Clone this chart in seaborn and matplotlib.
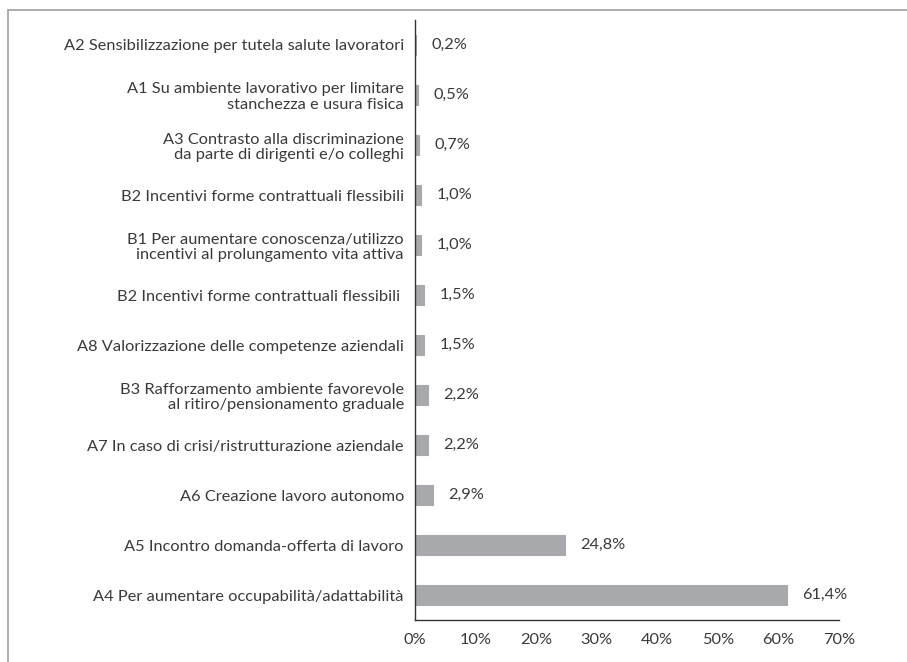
import matplotlib
matplotlib.use("Agg")
import matplotlib.pyplot as plt
import seaborn as sns
import pandas as pd
from matplotlib.lines import Line2D

labels = [
    "A2 Sensibilizzazione per tutela salute lavoratori",
    "A1 Su ambiente lavorativo per limitare\nstanchezza e usura fisica",
    "A3 Contrasto alla discriminazione\nda parte di dirigenti e/o colleghi",
    "B2 Incentivi forme contrattuali flessibili",
    "B1 Per aumentare conoscenza/utilizzo\nincentivi al prolungamento vita attiva",
    "B2 Incentivi forme contrattuali flessibili ",
    "A8 Valorizzazione delle competenze aziendali",
    "B3 Rafforzamento ambiente favorevole\nal ritiro/pensionamento graduale",
    "A7 In caso di crisi/ristrutturazione aziendale",
    "A6 Creazione lavoro autonomo",
    "A5 Incontro domanda-offerta di lavoro",
    "A4 Per aumentare occupabilità/adattabilità",
]
values = [0.2, 0.5, 0.7, 1.0, 1.0, 1.5, 1.5, 2.2, 2.2, 2.9, 24.8, 61.4]
xticks = [0, 10, 20, 30, 40, 50, 60, 70]

df = pd.DataFrame({"label": labels, "value": values})

sns.set_style("white")
plt.rcParams["font.family"] = ["Lato", "DejaVu Sans"]
text_col = "#3a3a3a"
fs = 11.8

fig = plt.figure(figsize=(9.07, 6.62), dpi=100)
ax = fig.add_axes([0.4576, 0.0634, 0.4675, 0.9064])

sns.barplot(data=df, x="value", y="label", orient="h", color="#a8a9ac",
            saturation=1, width=0.4, edgecolor="#a8a9ac", linewidth=0.8, ax=ax)

for i, v in enumerate(values):
    ax.annotate(f"{v:.1f}%".replace(".", ","), xy=(v, i), xytext=(11, 0),
                textcoords="offset points", va="center", ha="left",
                fontsize=fs, color=text_col)

ax.set_xlim(0, 70)
ax.set_ylim(len(values) - 0.5, -0.5)
ax.set_xticks(xticks)
ax.set_xticklabels([f"{t}%" for t in xticks], fontsize=fs, color=text_col)
ax.set_yticks(range(len(labels)))
ax.set_yticklabels(labels, fontsize=fs, color=text_col, linespacing=1.15)
ax.set_xlabel("")
ax.set_ylabel("")

# tick marks between categories on y axis
ax.set_yticks([i - 0.5 for i in range(len(labels) + 1)], minor=True)
ax.tick_params(axis="y", which="major", length=0, pad=8)
ax.tick_params(axis="y", which="minor", length=5, width=1, color="#333333", direction="out")
ax.tick_params(axis="x", which="major", length=5, width=1, color="#333333", direction="out", pad=4)

for s in ["top", "right"]:
    ax.spines[s].set_visible(False)
for s in ["left", "bottom"]:
    ax.spines[s].set_color("#333333")
    ax.spines[s].set_linewidth(1)

# outer frame
fig.add_artist(Line2D([8 / 907, 1], [1 - 10 / 662, 1 - 10 / 662], transform=fig.transFigure,
                      color="#a0a0a0", lw=1.2))
fig.add_artist(Line2D([8 / 907, 8 / 907], [0, 1 - 10 / 662], transform=fig.transFigure,
                      color="#a0a0a0", lw=1.2))

fig.savefig("out.png", dpi=100)
